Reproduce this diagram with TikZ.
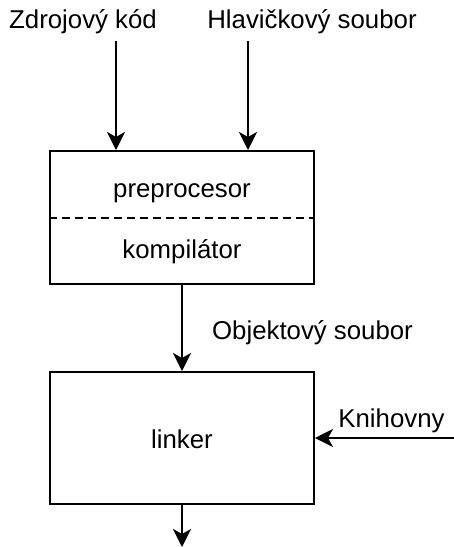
\documentclass[tikz,border=0pt]{standalone}
\usepackage{fontspec}
\setmainfont{Liberation Sans}
\usetikzlibrary{arrows.meta}
\tikzset{
  blk/.style={draw=black, line width=2pt, minimum width=264pt, minimum height=133pt, inner sep=0pt},
  lbl/.style={anchor=base, inner sep=0pt, font=\fontsize{25.8}{30}\selectfont},
  conn/.style={line width=2pt, -{Stealth[length=18pt, width=18pt, inset=5pt]}},
  sep/.style={line width=2pt, dash pattern=on 8pt off 5pt}
}
\begin{document}
\begin{tikzpicture}[x=1pt,y=-1pt]
\useasboundingbox (0,0) rectangle (454,547);
% boxes
\node[blk] (cmp) at (182,217.5) {};
\node[blk, minimum height=132pt] (lnk) at (182,438) {};
\draw[sep] (cmp.west) -- (cmp.east);
% texts
\node[lbl] (src) at (83,28) {Zdrojový kód};
\node[lbl] (hdr) at (312,28) {Hlavičkový soubor};
\node[lbl] (pre) at (182,197) {preprocesor};
\node[lbl] (kom) at (182,258) {kompilátor};
\node[lbl] (obj) at (312.5,339) {Objektový soubor};
\node[lbl] (lnkt) at (182,448) {linker};
\node[lbl] (lib) at (391.5,427) {Knihovny};
% connector ends
\coordinate (s1) at (116,41);
\coordinate (s2) at (248,41);
\coordinate (libs) at (454,438);
\coordinate (out) at (182,547);
% connectors
\draw[conn] (s1) -- (s1 |- cmp.north);
\draw[conn] (s2) -- (s2 |- cmp.north);
\draw[conn] (cmp.south) -- (lnk.north);
\draw[conn] (libs) -- (libs -| lnk.east);
\draw[conn] (lnk.south) -- (out);
\end{tikzpicture}
\end{document}
